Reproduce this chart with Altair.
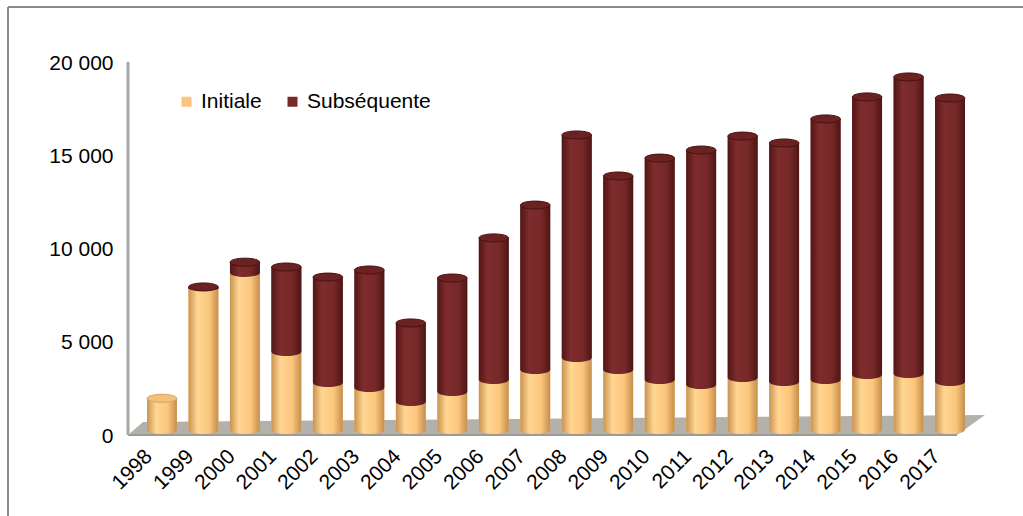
import altair as alt
import pandas as pd

# ---- data ----
years = ["1998", "1999", "2000", "2001", "2002", "2003", "2004", "2005", "2006", "2007",
         "2008", "2009", "2010", "2011", "2012", "2013", "2014", "2015", "2016", "2017"]
initiale = [1700, 7550, 8420, 4180, 2520, 2250, 1500, 2040, 2680, 3220,
            3860, 3220, 2680, 2410, 2790, 2570, 2680, 2950, 3000, 2570]
subsequente = [0, 120, 580, 4560, 5680, 6330, 4240, 6110, 7620, 8840,
               11960, 10400, 11900, 12600, 12970, 12820, 14000, 14910, 15930, 15230]
series = ["Initiale", "Subséquente"]
y_ticks = [0, 5000, 10000, 15000, 20000]

# ---- styling ----
FONT = "Liberation Sans"
ORANGE = "#FDC57B"
RED = "#772828"
W, H = 852, 373

wide = pd.DataFrame({"year": years, "initiale": initiale, "sub": subsequente})
wide["total"] = wide["initiale"] + wide["sub"]
long = pd.concat([
    pd.DataFrame({"year": years, "series": series[0], "value": initiale, "order": 0}),
    pd.DataFrame({"year": years, "series": series[1], "value": subsequente, "order": 1}),
])

xscale = alt.Scale(type="band", paddingInner=0.28, paddingOuter=0.41)
X = alt.X("year:N", scale=xscale, sort=years,
          axis=alt.Axis(title=None, labelAngle=-45, labelAlign="right", labelBaseline="middle",
                        labelFont=FONT, labelFontSize=21, labelColor="#000000",
                        labelPadding=23, labelOffset=-13, ticks=False, domain=False))
yscale = alt.Scale(domain=[0, 20000], nice=False)
Y_AX = alt.Axis(title=None, values=y_ticks, grid=False, ticks=False, domain=False,
                labelFont=FONT, labelFontSize=21, labelColor="#000000", labelPadding=17,
                labelOffset=6,
                labelExpr="replace(format(datum.value, ','), ',', ' ')")

orange_grad = alt.LinearGradient(gradient="linear", x1=0, x2=1, y1=0, y2=0, stops=[
    alt.GradientStop(color="#C99350", offset=0),
    alt.GradientStop(color="#FFD692", offset=0.3),
    alt.GradientStop(color="#FCC57C", offset=0.7),
    alt.GradientStop(color="#C48E4C", offset=1)])
red_grad = alt.LinearGradient(gradient="linear", x1=0, x2=1, y1=0, y2=0, stops=[
    alt.GradientStop(color="#521616", offset=0),
    alt.GradientStop(color="#7E2C2C", offset=0.3),
    alt.GradientStop(color="#762828", offset=0.7),
    alt.GradientStop(color="#4E1515", offset=1)])

ELLIPSE = ("M-1,0 C-1,-0.149 -0.5523,-0.27 0,-0.27 C0.5523,-0.27 1,-0.149 1,0 "
           "C1,0.149 0.5523,0.27 0,0.27 C-0.5523,0.27 -1,0.149 -1,0 Z")
ESIZE = 880

one = pd.DataFrame({"k": [0]})
# frame (top and left edges)
frame_top = alt.Chart(one).mark_rule(color="#8C8C8C", strokeWidth=2).encode(
    x=alt.value(-122), x2=alt.value(893), y=alt.value(-50))
frame_left = alt.Chart(one).mark_rule(color="#8C8C8C", strokeWidth=2).encode(
    x=alt.value(-122), y=alt.value(-50), y2=alt.value(460))

# 3D floor (decorative, pixel geometry)
floor_df = pd.DataFrame({"px": [-2, 13, 827, 855], "top": [378, 365, 358.2, 358],
                         "bot": [378, 378, 378, 358]})
floor = alt.Chart(floor_df).mark_area(color="#B3B1A9", clip=False).encode(
    x=alt.X("px:Q", scale=None), y=alt.Y("top:Q", scale=None), y2="bot:Q")
floor_edge = alt.Chart(one).mark_rule(color="#9C9A93", strokeWidth=2).encode(
    x=alt.value(-2), x2=alt.value(827), y=alt.value(378))
wall = alt.Chart(one).mark_rule(color="#A8A8A8", strokeWidth=3).encode(
    x=alt.value(-2), y=alt.value(5), y2=alt.value(378))

# base stacked bars (provide legend)
base = alt.Chart(long).mark_bar().encode(
    x=X,
    y=alt.Y("value:Q", stack="zero", scale=yscale, axis=Y_AX),
    order="order:Q",
    color=alt.Color("series:N", sort=series,
                    scale=alt.Scale(domain=series, range=[ORANGE, RED]),
                    legend=alt.Legend(title=None, orient="none", direction="horizontal",
                                      legendX=46, legendY=34, symbolType="square",
                                      symbolSize=100, labelFont=FONT, labelFontSize=21,
                                      labelColor="#000000", labelOffset=4,
                                      columnPadding=20, symbolStrokeWidth=0)))

wc = alt.Chart(wide)
orange_bars = wc.mark_bar(color=orange_grad).encode(x=X, y=alt.Y("initiale:Q", scale=yscale), y2=alt.datum(0))
orange_bottom = wc.mark_point(shape=ELLIPSE, size=ESIZE, filled=True, opacity=1, color=orange_grad).encode(
    x=X, y=alt.datum(0))
red_bars = wc.transform_filter("datum.sub > 0").mark_bar(color=red_grad).encode(
    x=X, y=alt.Y("total:Q", scale=yscale), y2="initiale:Q")
red_bottom = wc.transform_filter("datum.sub > 300").mark_point(
    shape=ELLIPSE, size=ESIZE, filled=True, opacity=1, color=red_grad).encode(
    x=X, y=alt.Y("initiale:Q", scale=yscale))
red_top = wc.transform_filter("datum.sub > 0").mark_point(
    shape=ELLIPSE, size=ESIZE, filled=True, opacity=1, color="#6A2222",
    stroke="#4A1212", strokeWidth=1).encode(x=X, y=alt.Y("total:Q", scale=yscale))
orange_top = wc.transform_filter("datum.sub == 0").mark_point(
    shape=ELLIPSE, size=ESIZE, filled=True, opacity=1, color="#F2C27C",
    stroke="#D9A45E", strokeWidth=1).encode(x=X, y=alt.Y("total:Q", scale=yscale))

chart = alt.layer(
    frame_top, frame_left, floor, floor_edge, wall,
    base, orange_bars, orange_bottom, red_bars, red_bottom, red_top, orange_top
).properties(
    width=W, height=H,
    background="white",
    autosize=alt.AutoSizeParams(type="none"),
    padding={"left": 130, "top": 57, "right": 1023 - 130 - W, "bottom": 516 - 57 - H},
).configure_view(strokeWidth=0, stroke="transparent")

chart.save("out.html", embed_options={"renderer": "svg", "actions": False})
